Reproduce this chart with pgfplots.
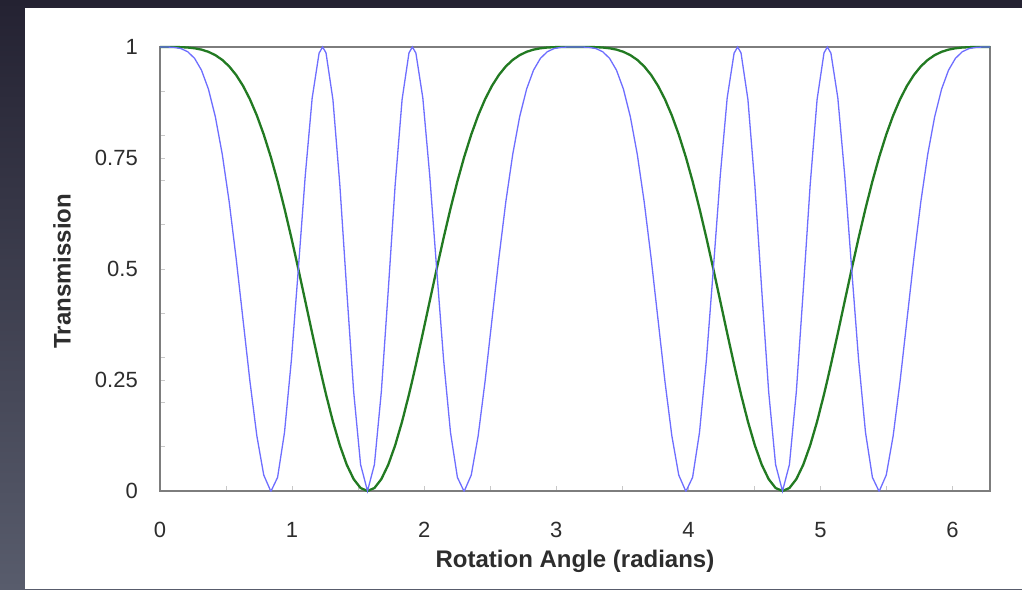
\documentclass[border=0pt]{standalone}
\usepackage{pgfplots}
\pgfplotsset{compat=1.18}
\usepackage{pgfplotstable}
\usepackage{fontspec}
\setmainfont{Liberation Sans}
\definecolor{bgtop}{RGB}{36,34,50}
\definecolor{bgbot}{RGB}{88,92,108}
\definecolor{axgray}{RGB}{125,125,125}
\definecolor{tickgray}{RGB}{200,200,200}
\definecolor{txt}{RGB}{45,45,45}
\definecolor{lblue}{RGB}{110,110,255}
\definecolor{dgreen}{RGB}{34,122,34}
\pgfplotstableread{
x green blue
0.00000 1.00000 1.00000
0.05236 1.00000 0.99996
0.10472 0.99993 0.99933
0.15708 0.99963 0.99664
0.20944 0.99882 0.98943
0.26180 0.99714 0.97444
0.31416 0.99410 0.94774
0.36652 0.98915 0.90520
0.41888 0.98167 0.84299
0.47124 0.97098 0.75860
0.52360 0.95636 0.65163
0.57596 0.93714 0.52514
0.62832 0.91268 0.38642
0.68068 0.88238 0.24742
0.73304 0.84586 0.12436
0.78540 0.80285 0.03588
0.83776 0.75335 0.00013
0.84107 0.75000 0.00000
0.89012 0.69760 0.03066
0.94248 0.63616 0.13193
0.99484 0.56990 0.29579
1.04720 0.50000 0.50000
1.09956 0.42798 0.71009
1.15192 0.35558 0.88505
1.20428 0.28479 0.98615
1.23096 0.25000 1.00000
1.25664 0.21769 0.98693
1.30900 0.15638 0.88168
1.36136 0.10293 0.68950
1.41372 0.05917 0.45185
1.46608 0.02672 0.22364
1.51844 0.00674 0.05960
1.57080 0.00000 0.00000
1.62316 0.00674 0.05960
1.67552 0.02672 0.22364
1.72788 0.05917 0.45185
1.78024 0.10293 0.68950
1.83260 0.15638 0.88168
1.88496 0.21769 0.98693
1.91063 0.25000 1.00000
1.93732 0.28479 0.98615
1.98968 0.35558 0.88505
2.04204 0.42798 0.71009
2.09440 0.50000 0.50000
2.14675 0.56990 0.29579
2.19911 0.63616 0.13193
2.25147 0.69760 0.03066
2.30052 0.75000 0.00000
2.30383 0.75335 0.00013
2.35619 0.80285 0.03588
2.40855 0.84586 0.12436
2.46091 0.88238 0.24742
2.51327 0.91268 0.38642
2.56563 0.93714 0.52514
2.61799 0.95636 0.65163
2.67035 0.97098 0.75860
2.72271 0.98167 0.84299
2.77507 0.98915 0.90520
2.82743 0.99410 0.94774
2.87979 0.99714 0.97444
2.93215 0.99882 0.98943
2.98451 0.99963 0.99664
3.03687 0.99993 0.99933
3.08923 1.00000 0.99996
3.14159 1.00000 1.00000
3.19395 1.00000 0.99996
3.24631 0.99993 0.99933
3.29867 0.99963 0.99664
3.35103 0.99882 0.98943
3.40339 0.99714 0.97444
3.45575 0.99410 0.94774
3.50811 0.98915 0.90520
3.56047 0.98167 0.84299
3.61283 0.97098 0.75860
3.66519 0.95636 0.65163
3.71755 0.93714 0.52514
3.76991 0.91268 0.38642
3.82227 0.88238 0.24742
3.87463 0.84586 0.12436
3.92699 0.80285 0.03588
3.97935 0.75335 0.00013
3.98266 0.75000 0.00000
4.03171 0.69760 0.03066
4.08407 0.63616 0.13193
4.13643 0.56990 0.29579
4.18879 0.50000 0.50000
4.24115 0.42798 0.71009
4.29351 0.35558 0.88505
4.34587 0.28479 0.98615
4.37255 0.25000 1.00000
4.39823 0.21769 0.98693
4.45059 0.15638 0.88168
4.50295 0.10293 0.68950
4.55531 0.05917 0.45185
4.60767 0.02672 0.22364
4.66003 0.00674 0.05960
4.71239 0.00000 0.00000
4.76475 0.00674 0.05960
4.81711 0.02672 0.22364
4.86947 0.05917 0.45185
4.92183 0.10293 0.68950
4.97419 0.15638 0.88168
5.02655 0.21769 0.98693
5.05222 0.25000 1.00000
5.07891 0.28479 0.98615
5.13127 0.35558 0.88505
5.18363 0.42798 0.71009
5.23599 0.50000 0.50000
5.28835 0.56990 0.29579
5.34071 0.63616 0.13193
5.39307 0.69760 0.03066
5.44211 0.75000 0.00000
5.44543 0.75335 0.00013
5.49779 0.80285 0.03588
5.55015 0.84586 0.12436
5.60251 0.88238 0.24742
5.65487 0.91268 0.38642
5.70723 0.93714 0.52514
5.75959 0.95636 0.65163
5.81195 0.97098 0.75860
5.86431 0.98167 0.84299
5.91667 0.98915 0.90520
5.96903 0.99410 0.94774
6.02139 0.99714 0.97444
6.07375 0.99882 0.98943
6.12611 0.99963 0.99664
6.17847 0.99993 0.99933
6.23083 1.00000 0.99996
6.28319 1.00000 1.00000
}\datatable

\begin{document}
\begin{tikzpicture}
\shade[top color=bgtop,bottom color=bgbot] (0pt,0pt) rectangle (1022pt,-589pt);
\fill[white] (25pt,-8pt) rectangle (1022pt,-589pt);
\begin{axis}[
  at={(160pt,-491pt)}, anchor=south west,
  scale only axis, width=830pt, height=444pt,
  xmin=0, xmax=6.28319, ymin=0, ymax=1,
  clip=false,
  axis line style={axgray, line width=1.8pt},
  xtick={0,1,2,3,4,5,6},
  minor xtick={0.5,1.5,2.5,3.5,4.5,5.5},
  ytick={0,0.25,0.5,0.75,1},
  minor ytick={0.1,0.2,0.3,0.4,0.6,0.7,0.8,0.9},
  xtick pos=bottom, ytick pos=left,
  tick align=inside,
  major tick length=5pt, minor tick length=5pt,
  tick style={tickgray, line width=1pt},
  /pgf/number format/assume math mode=true,
  ticklabel style={font=\fontsize{22}{22}\selectfont, text=txt},
  xticklabel style={anchor=base, yshift=-46pt},
  yticklabel style={anchor=east, inner sep=0pt, xshift=-22pt},
  xlabel={\bfseries Rotation Angle (radians)},
  ylabel={\bfseries Transmission},
  xlabel style={font=\fontsize{24}{24}\selectfont, text=txt, at={(axis description cs:0.5,-0.158)}, anchor=center},
  ylabel style={font=\fontsize{24}{24}\selectfont, text=txt, at={(axis description cs:-0.118,0.495)}, anchor=center, rotate=0},
]
\addplot[dgreen, line width=2.3pt] table[x=x, y=green]{\datatable};
\addplot[lblue, line width=1.3pt] table[x=x, y=blue]{\datatable};
\end{axis}
\end{tikzpicture}
\end{document}
